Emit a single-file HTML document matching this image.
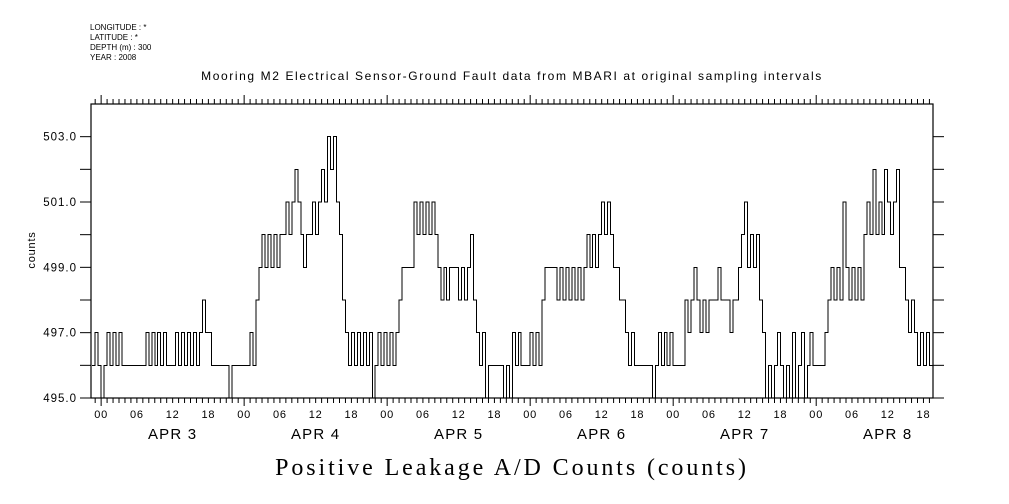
<!DOCTYPE html>
<html><head><meta charset="utf-8"><style>
body{margin:0;background:#fff;}
svg{display:block;font-family:"Liberation Sans",sans-serif;}
</style></head><body>
<svg id="chart" width="1009" height="504" viewBox="0 0 1009 504" xmlns="http://www.w3.org/2000/svg">
<g font-size="8" fill="#000">
<text x="90" y="30">LONGITUDE : *</text>
<text x="90" y="40">LATITUDE : *</text>
<text x="90" y="50">DEPTH (m) : 300</text>
<text x="90" y="60">YEAR : 2008</text>
</g>
<text x="512" y="80" text-anchor="middle" font-size="12" letter-spacing="1.6">Mooring M2 Electrical Sensor-Ground Fault data from MBARI at original sampling intervals</text>
<text x="35" y="250" text-anchor="middle" font-size="11" letter-spacing="0.8" transform="rotate(-90 35 250)">counts</text>
<text x="512" y="475" text-anchor="middle" font-size="24" letter-spacing="2.9" font-family="'Liberation Serif',serif">Positive Leakage A/D Counts (counts)</text>
<g id="axes"></g>
<path id="series" fill="none" stroke="#000" stroke-width="1" shape-rendering="crispEdges"/>
<rect x="91" y="104" width="842" height="294" fill="none" stroke="#000" stroke-width="1.2"/>
</svg>
<script>
const startHour = -1.5;
const stepHours = 0.5;
const apr2Tail = [496,497,496];
const apr3 = [495,496,497,496,497,496,497,496, 496,496,496,496,496,496,496, 497,496,497,496,497,496,497,496,496,496,497,496,497,496,497,496,497,496,497,498,497,497,496, 496,496,496,496,496,495,496,496,496,496];
const apr4 = [496,496,497,496,498,499,500,499,500,499,500,499,500,500,501,500,501,502,501,500,499,500,500,501,500,501,502,501,503,502,503,501,500,498,497,496,497,496,497,496,497,496,497,495,496,497,496,497];
const apr5 = [496,497,496,497,498,499,499,499,499,501,500,501,500,501,500,501,500,499,498,499,498,499,499,499,498,499,498,499,500,498,497,496,497,495,496,496,496,496,496,495,496,495,497,496,497,496,496,496];
const apr6 = [497,496,497,496,498,499,499,499,499,498,499,498,499,498,499,498,499,498,499,500,499,500,499,500,501,500,501,500,499,499,498,498,497,496,497,496,496,496,496,496,496,495,496,497,496,497,496,497];
const apr7 = [496,496,496,496,498,497,498,499,498,497,498,497,498,498,498,499,498,498,498,497,498,498,499,500,501,499,500,499,500,498,497,495,496,495,496,497,496,495,496,495,497,495,496,497,495,496,497,496];
const apr8 = [496,496,496,497,498,499,498,499,498,501,499,498,499,498,499,498,500,501,500,502,500,501,500,502,501,500,501,502,499,499,498,497,498,497,496,497,496,497,496,496];
const yTickValues = [495,496,497,498,499,500,501,502,503,504];
const yLabelValues = [495,497,499,501,503];
const hourTickLabels = ["00","06","12","18"];
const dayLabels = ["APR   3","APR   4","APR   5","APR   6","APR   7","APR   8"];

const X0=91,X1=933,Y0=398,Y1=104;
const hMin=-1.7,hMax=139.6,vMin=495,vMax=504;
const xs=h=>X0+(h-hMin)/(hMax-hMin)*(X1-X0);
const ys=v=>Y0-(v-vMin)/(vMax-vMin)*(Y0-Y1);
const NS="http://www.w3.org/2000/svg";
const axes=document.getElementById('axes');
function mk(tag,attrs,parent){const e=document.createElementNS(NS,tag);for(const k in attrs)e.setAttribute(k,attrs[k]);(parent||axes).appendChild(e);return e;}

const values=[].concat(apr2Tail,apr3,apr4,apr5,apr6,apr7,apr8);
let d="";
values.forEach((v,i)=>{
  const h0=startHour+i*stepHours, h1=Math.min(h0+stepHours,hMax);
  const x0=xs(Math.max(h0,hMin)).toFixed(1), x1=xs(h1).toFixed(1), y=ys(v).toFixed(1);
  d+=(i===0?"M":"L")+x0+","+y+"L"+x1+","+y;
});
document.getElementById('series').setAttribute('d',d);

yTickValues.forEach(v=>{
  const y=ys(v);
  if(v<vMax){
    const t=mk('line',{x1:80,x2:X0,y1:y,y2:y,stroke:'#000','stroke-width':1});
    
    
    const r=mk('line',{x1:X1,x2:944,y1:y,y2:y,stroke:'#000','stroke-width':1});
    
    
  }
});
yLabelValues.forEach(v=>{
  const t=mk('text',{x:77,y:ys(v)+4,'text-anchor':'end','font-size':11.5,'letter-spacing':1});
  t.textContent=v.toFixed(1);
  
  
});
for(let h=-1;h<=139;h++){
  const x=xs(h);
  const major=(h%24===0);
  const b=mk('line',{x1:x,x2:x,y1:Y0,y2:Y0+(major?8:5),stroke:'#000','stroke-width':1});
  
  
  const t=mk('line',{x1:x,x2:x,y1:Y1,y2:Y1-(major?9:5),stroke:'#000','stroke-width':1});
  
  
  if(h>=0 && h%6===0){
    const l=mk('text',{x:x,y:418,'text-anchor':'middle','font-size':11,'letter-spacing':0.8});
    l.textContent=hourTickLabels[(h/6)%4];
    
    
  }
}
dayLabels.forEach((lab,i)=>{
  const t=mk('text',{x:xs(i*24+12),y:439,'text-anchor':'middle','font-size':15,'letter-spacing':1.2,'xml:space':'preserve'});
  t.textContent=lab;
  
  
});
</script>
</body></html>
